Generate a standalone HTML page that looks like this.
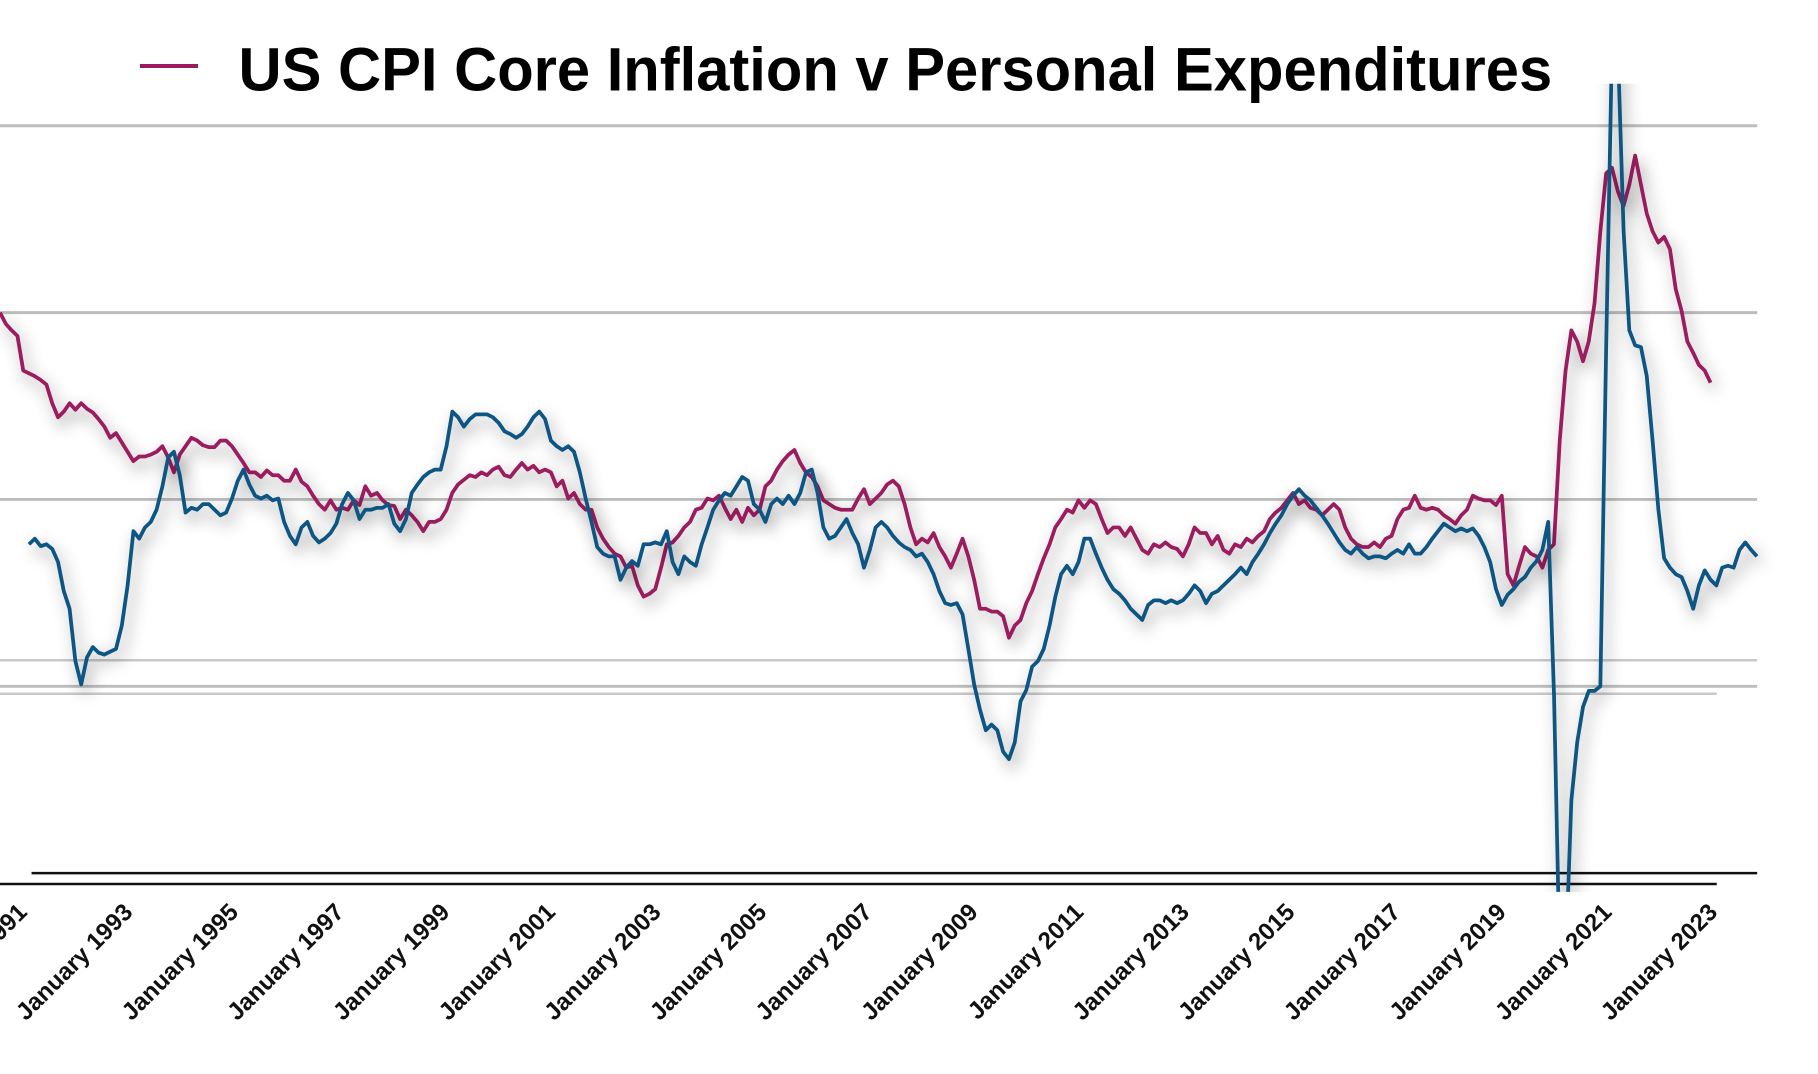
<!DOCTYPE html>
<html><head><meta charset="utf-8"><style>
html,body{margin:0;padding:0;background:#fff;}
svg{display:block;font-family:"Liberation Sans",Arial,sans-serif;}
</style></head><body>
<svg id="chart" width="1818" height="1074" viewBox="0 0 1818 1074" xmlns="http://www.w3.org/2000/svg">
<defs>
<filter id="shadow" x="-5%" y="-20%" width="110%" height="140%">
<feDropShadow dx="4" dy="7" stdDeviation="8" flood-color="#000" flood-opacity="0.45"/>
</filter>
<clipPath id="plotclip"><rect x="0" y="85" width="1850" height="820"/></clipPath>
</defs>
<rect width="1818" height="1074" fill="#fff"/>
<g transform="scale(0.9855)">
<line x1="142" y1="67" x2="201" y2="67" stroke="#9b1c5e" stroke-width="4"/>
<text x="242" y="92" font-size="62" font-weight="bold" textLength="1333" lengthAdjust="spacingAndGlyphs" fill="#000">US CPI Core Inflation v Personal Expenditures</text>
<g id="grid"></g>
<g id="series" clip-path="url(#plotclip)"></g>
<g id="xlabels"></g>
</g>
</svg>
<script>
const redStartYear = 1990.519;
const blueStartYear = 1991.068;
const stepYears = 0.10977;
const gridValues = [8, 6, 4, 2];
const tickYears = [1991,1993,1995,1997,1999,2001,2003,2005,2007,2009,2011,2013,2015,2017,2019,2021,2023];
const redValues = [6.00,5.88,5.81,5.75,5.38,5.35,5.32,5.28,5.23,5.03,4.88,4.94,5.03,4.96,5.03,4.97,4.93,4.86,4.78,4.66,4.71,4.61,4.51,4.41,4.46,4.46,4.48,4.51,4.57,4.45,4.29,4.48,4.57,4.66,4.63,4.58,4.56,4.56,4.63,4.63,4.57,4.48,4.39,4.29,4.29,4.24,4.31,4.26,4.26,4.20,4.20,4.32,4.19,4.14,4.04,3.95,3.89,3.99,3.89,3.91,3.89,3.99,3.94,4.14,4.04,4.07,3.99,3.94,3.93,3.79,3.89,3.83,3.76,3.66,3.76,3.76,3.79,3.89,4.07,4.16,4.21,4.26,4.24,4.29,4.26,4.32,4.35,4.26,4.24,4.32,4.39,4.32,4.36,4.29,4.32,4.29,4.14,4.20,4.01,4.07,3.95,3.89,3.89,3.70,3.58,3.49,3.42,3.39,3.27,3.29,3.08,2.96,2.99,3.04,3.27,3.52,3.54,3.61,3.70,3.76,3.89,3.91,4.01,3.99,4.04,3.91,3.79,3.89,3.76,3.91,3.83,3.89,4.14,4.20,4.32,4.41,4.48,4.53,4.39,4.29,4.24,4.14,3.99,3.95,3.91,3.89,3.89,3.89,4.01,4.11,3.95,4.01,4.07,4.16,4.20,4.14,3.95,3.70,3.52,3.58,3.54,3.64,3.49,3.39,3.27,3.42,3.58,3.39,3.14,2.83,2.83,2.80,2.80,2.75,2.52,2.65,2.71,2.89,3.02,3.20,3.37,3.52,3.70,3.79,3.89,3.86,3.99,3.91,3.99,3.95,3.79,3.64,3.70,3.70,3.61,3.70,3.58,3.46,3.42,3.52,3.49,3.54,3.49,3.47,3.39,3.52,3.70,3.64,3.64,3.52,3.61,3.46,3.42,3.52,3.49,3.58,3.54,3.61,3.66,3.79,3.86,3.91,3.99,4.07,3.95,3.99,3.91,3.89,3.83,3.89,3.95,3.89,3.70,3.58,3.52,3.49,3.49,3.54,3.49,3.58,3.61,3.79,3.89,3.91,4.04,3.91,3.89,3.91,3.89,3.83,3.79,3.74,3.83,3.89,4.04,4.01,3.99,3.99,3.94,4.04,3.20,3.08,3.29,3.49,3.42,3.39,3.27,3.46,3.52,4.63,5.38,5.81,5.69,5.48,5.69,6.10,6.87,7.49,7.55,7.30,7.14,7.37,7.68,7.37,7.06,6.87,6.75,6.81,6.68,6.25,6.02,5.69,5.57,5.44,5.38,5.25];
const blueValues = [3.52,3.58,3.50,3.52,3.47,3.33,3.02,2.83,2.27,2.02,2.31,2.42,2.36,2.34,2.37,2.40,2.65,3.08,3.66,3.58,3.70,3.76,3.89,4.14,4.45,4.51,4.26,3.86,3.91,3.89,3.95,3.95,3.89,3.83,3.86,4.01,4.20,4.32,4.16,4.04,4.01,4.04,3.99,4.01,3.76,3.61,3.52,3.70,3.76,3.61,3.54,3.58,3.64,3.74,3.95,4.07,3.99,3.79,3.89,3.89,3.91,3.91,3.95,3.74,3.66,3.79,4.07,4.16,4.24,4.29,4.32,4.32,4.57,4.94,4.88,4.78,4.86,4.91,4.91,4.91,4.88,4.82,4.73,4.70,4.66,4.70,4.78,4.88,4.94,4.86,4.63,4.57,4.53,4.57,4.51,4.29,4.01,3.76,3.49,3.42,3.39,3.39,3.14,3.27,3.34,3.29,3.52,3.52,3.54,3.52,3.66,3.33,3.20,3.39,3.33,3.29,3.52,3.70,3.89,3.99,4.07,4.04,4.14,4.24,4.20,3.95,3.89,3.76,3.95,4.01,3.95,4.04,3.95,4.07,4.29,4.32,4.07,3.70,3.58,3.61,3.70,3.79,3.64,3.52,3.27,3.46,3.70,3.76,3.70,3.61,3.54,3.49,3.46,3.39,3.42,3.33,3.20,3.02,2.89,2.87,2.89,2.77,2.40,2.02,1.75,1.53,1.59,1.53,1.30,1.22,1.40,1.84,1.96,2.21,2.27,2.40,2.65,2.96,3.20,3.29,3.20,3.33,3.58,3.58,3.42,3.27,3.14,3.04,2.99,2.92,2.83,2.77,2.71,2.87,2.92,2.92,2.89,2.92,2.89,2.92,2.99,3.08,3.02,2.89,2.99,3.02,3.08,3.14,3.20,3.27,3.20,3.33,3.42,3.52,3.64,3.74,3.83,3.95,4.04,4.11,4.04,3.99,3.91,3.83,3.74,3.64,3.54,3.46,3.42,3.49,3.42,3.37,3.39,3.39,3.37,3.42,3.46,3.42,3.52,3.42,3.42,3.49,3.58,3.66,3.74,3.70,3.66,3.69,3.66,3.69,3.61,3.49,3.33,3.04,2.87,2.98,3.04,3.12,3.17,3.27,3.34,3.46,3.76,1.90,-0.96,-0.96,0.78,1.40,1.78,1.95,1.95,2.00,5.63,8.86,8.86,6.87,5.81,5.65,5.63,5.32,4.63,3.89,3.37,3.27,3.20,3.17,3.02,2.83,3.08,3.24,3.14,3.08,3.27,3.29,3.27,3.46,3.54,3.46,3.39];

const NS = 'http://www.w3.org/2000/svg';
function xScale(year){ return 133 + (year - 1993) * 53.6; }
function yScale(v){ return 886 - v * 94.8; }

const grid = document.getElementById('grid');
gridValues.forEach(function(v){
  const l = document.createElementNS(NS,'line');
  l.setAttribute('x1', 0); l.setAttribute('x2', 1783);
  l.setAttribute('y1', yScale(v)); l.setAttribute('y2', yScale(v));
  l.setAttribute('stroke', '#bdbdbd'); l.setAttribute('stroke-width', 3);
  
  
  grid.appendChild(l);
});
[[670,1783],[704,1742]].forEach(function(p){
  const l = document.createElementNS(NS,'line');
  l.setAttribute('x1', 0); l.setAttribute('x2', p[1]);
  l.setAttribute('y1', p[0]); l.setAttribute('y2', p[0]);
  l.setAttribute('stroke', '#c8c8c8'); l.setAttribute('stroke-width', 2.5);
  
  
  grid.appendChild(l);
});
const axis0 = document.createElementNS(NS,'line');
axis0.setAttribute('x1', 32); axis0.setAttribute('x2', 1783);
axis0.setAttribute('y1', yScale(0)); axis0.setAttribute('y2', yScale(0));
axis0.setAttribute('stroke', '#111'); axis0.setAttribute('stroke-width', 2.5);


grid.appendChild(axis0);
const axis1 = document.createElementNS(NS,'line');
axis1.setAttribute('x1', 0); axis1.setAttribute('x2', 1742);
axis1.setAttribute('y1', 897); axis1.setAttribute('y2', 897);
axis1.setAttribute('stroke', '#111'); axis1.setAttribute('stroke-width', 2.5);


grid.appendChild(axis1);

function drawSeries(values, startYear, color, name){
  const pts = values.map(function(v,i){
    return xScale(startYear + i * stepYears).toFixed(1) + ',' + yScale(v).toFixed(1);
  });
  const p = document.createElementNS(NS,'polyline');
  p.setAttribute('points', pts.join(' '));
  p.setAttribute('fill', 'none');
  p.setAttribute('stroke', color);
  p.setAttribute('stroke-width', 3.8);
  p.setAttribute('stroke-linejoin', 'round');
  p.setAttribute('filter', 'url(#shadow)');
  
  
  document.getElementById('series').appendChild(p);
}
drawSeries(redValues, redStartYear, '#9b1c5e', 'cpi-core-line');
drawSeries(blueValues, blueStartYear, '#0f5583', 'personal-expenditures-line');

const xl = document.getElementById('xlabels');
tickYears.forEach(function(y){
  const x = xScale(y) + 3, yy = 927;
  const t = document.createElementNS(NS,'text');
  t.setAttribute('x', x); t.setAttribute('y', yy);
  t.setAttribute('text-anchor', 'end');
  t.setAttribute('font-size', 24.5);
  t.setAttribute('font-weight', 'bold');
  t.setAttribute('fill', '#111');
  t.setAttribute('transform', 'rotate(-45 ' + x + ' ' + yy + ')');
  t.textContent = 'January ' + y;
  
  
  xl.appendChild(t);
});
</script>
</body></html>
